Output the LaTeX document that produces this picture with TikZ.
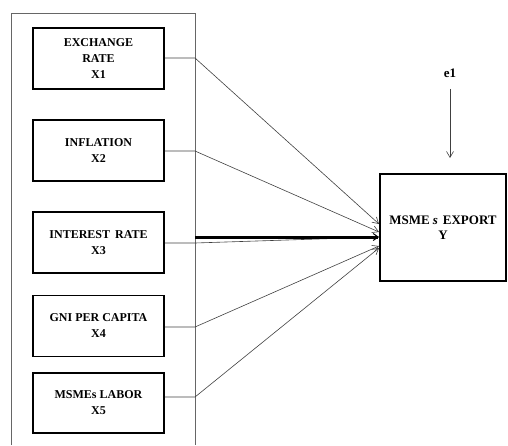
\documentclass[tikz,border=0pt]{standalone}
\usepackage{fontspec}
\setmainfont{Liberation Serif}
\usetikzlibrary{arrows.meta}
\begin{document}
\begin{tikzpicture}[x=1pt,y=-1pt,
  varbox/.style={draw=black,line width=1.6pt,minimum width=131pt,minimum height=61pt,align=center,font=\fontsize{12}{16}\selectfont\bfseries,inner sep=0pt},
  link/.style={draw=black!75,line width=0.6pt},
  arr/.style={link,-{Straight Barb[length=6pt,width=7pt]}},
  frame/.style={draw=black!60,line width=0.8pt}]
\useasboundingbox (0,0) rectangle (508,445);
\draw[frame] (11,445) -- (11,13) -- (195,13) -- (195,445);
\node[varbox] (b1) at (98.5,58.5) {EXCHANGE\\RATE\\X1};
\node[varbox] (b2) at (98.5,150.5) {INFLATION\\X2};
\node[varbox] (b3) at (98.5,242.5) {INTEREST\, RATE\\X3};
\node[varbox] (b4) at (98.5,326) {GNI PER CAPITA\\X4};
\node[varbox,minimum height=60pt] (b5) at (98.5,403) {MSMEs LABOR\\X5};
\node[draw=black,line width=1.4pt,minimum width=126pt,minimum height=107pt,align=center,font=\fontsize{13}{15}\selectfont\bfseries,inner sep=0pt] (y) at (443,227.5) {MSME\kern3pt\textit{s}\kern5pt EXPORT\\Y};
\node[font=\fontsize{13}{15}\selectfont\bfseries] (e) at (450,73) {e1};
\coordinate (k1) at (195,58);
\coordinate (k2) at (195,151);
\coordinate (k3) at (195,243);
\coordinate (k4) at (195,327);
\coordinate (k5) at (195,397);
\coordinate (t1) at (379,224);
\coordinate (t2) at (379,232);
\coordinate (t3) at (379,237);
\coordinate (t4) at (379,246);
\coordinate (t5) at (379,248);
\coordinate (ks) at (195,237);
\draw[arr] (b1.east |- k1) -- (k1) -- (t1);
\draw[arr] (b2.east |- k2) -- (k2) -- (t2);
\draw[link] (b3.east |- k3) -- (k3) -- (t3);
\draw[arr] (b4.east |- k4) -- (k4) -- (t4);
\draw[arr] (b5.east |- k5) -- (k5) -- (t5);
\draw[line width=3pt,-{Straight Barb[length=5pt,width=7pt,line width=1pt]}] (ks) -- (t3);
\draw[arr] (e.south) ++(0,8) -- (450,158);
\end{tikzpicture}
\end{document}
